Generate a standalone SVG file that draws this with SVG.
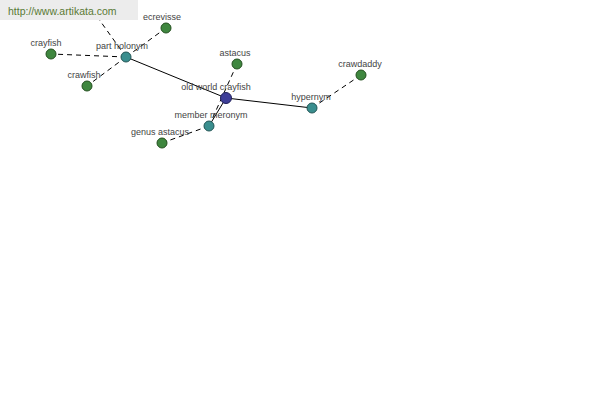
<svg xmlns="http://www.w3.org/2000/svg" width="600" height="400" viewBox="0 0 600 400">
<style>
.solid{stroke:#000;stroke-width:1;fill:none}
.dash{stroke:#000;stroke-width:1;fill:none;stroke-dasharray:5,4}
.lbl{font-family:"Liberation Sans",Arial,sans-serif;font-size:9px;fill:#444;text-anchor:middle}
.leaf{fill:#3f873f;stroke:#24501f;stroke-width:1}
.rel{fill:#3a8e8e;stroke:#235656;stroke-width:1}
.main{fill:#3e3e98;stroke:#20205a;stroke-width:1}
</style>
<rect width="600" height="400" fill="#fff"/>
<g id="connectors">
<line class="solid" x1="126" y1="57" x2="226" y2="98"/>
<line class="solid" x1="226" y1="98" x2="312" y2="108"/>
<line class="solid" x1="226" y1="98" x2="209" y2="126"/>
<line class="dash" x1="126" y1="57" x2="51" y2="54"/>
<line class="dash" x1="126" y1="57" x2="87" y2="86"/>
<line class="dash" x1="126" y1="57" x2="166" y2="28"/>
<line class="dash" x1="126" y1="57" x2="88" y2="4"/>
<line class="dash" x1="209" y1="126" x2="237" y2="64"/>
<line class="dash" x1="209" y1="126" x2="162" y2="143"/>
<line class="dash" x1="312" y1="108" x2="361" y2="75"/>
</g>
<g id="n-crayfish"><circle class="leaf" cx="51" cy="54" r="5"/><text class="lbl" x="46" y="46">crayfish</text></g>
<g id="n-crawfish"><circle class="leaf" cx="87" cy="86" r="5"/><text class="lbl" x="84" y="78">crawfish</text></g>
<g id="n-ecrevisse"><circle class="leaf" cx="166" cy="28" r="5"/><text class="lbl" x="162" y="20">ecrevisse</text></g>
<g id="n-part-holonym"><circle class="rel" cx="126" cy="57" r="5"/><text class="lbl" x="122" y="49">part holonym</text></g>
<g id="n-astacus"><circle class="leaf" cx="237" cy="64" r="5"/><text class="lbl" x="235" y="56">astacus</text></g>
<g id="n-old-world-crayfish"><circle class="main" cx="226" cy="98" r="5.5"/><text class="lbl" x="216" y="90">old world crayfish</text></g>
<g id="n-member-meronym"><circle class="rel" cx="209" cy="126" r="5"/><text class="lbl" x="211" y="118">member meronym</text></g>
<g id="n-genus-astacus"><circle class="leaf" cx="162" cy="143" r="5"/><text class="lbl" x="160" y="135">genus astacus</text></g>
<g id="n-hypernym"><circle class="rel" cx="312" cy="108" r="5"/><text class="lbl" x="311" y="100">hypernym</text></g>
<g id="n-crawdaddy"><circle class="leaf" cx="361" cy="75" r="5"/><text class="lbl" x="360" y="67">crawdaddy</text></g>
<g id="banner">
<rect x="0" y="0" width="138" height="20" fill="#ececec"/>
<text x="8" y="15" font-family="Liberation Sans,Arial,sans-serif" font-size="10.5" fill="#5a7a35">http://www.artikata.com</text>
</g>
</svg>
